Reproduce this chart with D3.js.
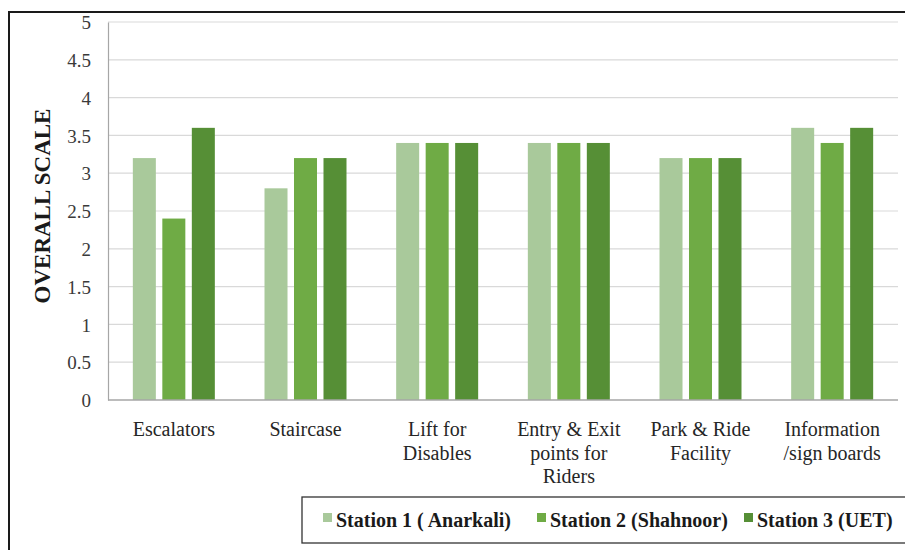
<!DOCTYPE html>
<html>
<head>
<meta charset="utf-8">
<script src="https://cdn.jsdelivr.net/npm/d3@7/dist/d3.min.js"></script>
<style>
  html, body { margin: 0; padding: 0; background: #fff; }
  svg { display: block; }
</style>
</head>
<body>
<svg id="chart" width="905" height="550"></svg>
<script>
// Facility ratings per metro station
const categories = [
  ["Escalators"],
  ["Staircase"],
  ["Lift for", "Disables"],
  ["Entry & Exit", "points for", "Riders"],
  ["Park & Ride", "Facility"],
  ["Information", "/sign boards"]
];
const seriesNames = ["Station 1 ( Anarkali)", "Station 2 (Shahnoor)", "Station 3 (UET)"];
const station1 = [3.2, 2.8, 3.4, 3.4, 3.2, 3.6];
const station2 = [2.4, 3.2, 3.4, 3.4, 3.2, 3.4];
const station3 = [3.6, 3.2, 3.4, 3.4, 3.2, 3.6];
const yTicks = [0, 0.5, 1, 1.5, 2, 2.5, 3, 3.5, 4, 4.5, 5];
const colors = ["#a9c99b", "#6fab45", "#568f36"];

const FONT = "'Liberation Serif', 'Times New Roman', serif";
const series = [station1, station2, station3];
const catKeys = categories.map(c => c.join(" "));

const svg = d3.select("#chart").attr("font-family", FONT);
const plot = { left: 108, right: 898, top: 22, bottom: 400 };

// outer frame (left and top edges)
svg.append("path")
  .attr("d", "M9,550 L9,12 L905,12")
  .attr("fill", "none").attr("stroke", "#1a1a1a").attr("stroke-width", 2);

const x0 = d3.scaleBand().domain(catKeys).range([plot.left, plot.right]).padding(0);
const x1 = d3.scaleBand().domain(d3.range(series.length))
  .range([x0.bandwidth() / 2 - 41, x0.bandwidth() / 2 + 41]).paddingInner(0.22);
const y = d3.scaleLinear().domain([0, 5]).range([plot.bottom, plot.top]);

// horizontal gridlines
svg.append("g")
  .selectAll("line").data(yTicks.filter(t => t > 0)).join("line")
  .attr("x1", plot.left).attr("x2", plot.right)
  .attr("y1", d => y(d)).attr("y2", d => y(d))
  .attr("stroke", "#d9d9d9").attr("stroke-width", 1.2);

// y axis
const yAxis = svg.append("g")
  .attr("transform", `translate(${plot.left},0)`)
  .call(d3.axisLeft(y).tickValues(yTicks).tickSize(0).tickPadding(17).tickFormat(d3.format("")));
yAxis.attr("font-family", FONT).attr("font-size", 19);
yAxis.select(".domain").attr("stroke", "#a6a6a6").attr("stroke-width", 1.2);
yAxis.selectAll("text").attr("fill", "#3a3a3a").attr("dy", "0.35em");

// bars
const groups = svg.append("g").selectAll("g").data(catKeys).join("g")
  .attr("transform", d => `translate(${x0(d)},0)`);
groups.selectAll("rect")
  .data((d, i) => series.map((s, j) => ({ j, v: s[i] })))
  .join("rect")
  .attr("x", d => x1(d.j))
  .attr("width", x1.bandwidth())
  .attr("y", d => y(d.v))
  .attr("height", d => y(0) - y(d.v))
  .attr("fill", d => colors[d.j]);

// x axis baseline
svg.append("line")
  .attr("x1", plot.left).attr("x2", plot.right)
  .attr("y1", y(0)).attr("y2", y(0))
  .attr("stroke", "#a6a6a6").attr("stroke-width", 1.5);

// category labels (multi-line)
const catLabels = svg.append("g").selectAll("text").data(categories).join("text")
  .attr("text-anchor", "middle")
  .attr("font-size", 20)
  .attr("fill", "#262626")
  .attr("x", (d, i) => x0(catKeys[i]) + x0.bandwidth() / 2)
  .attr("y", 436);
catLabels.selectAll("tspan").data(d => d).join("tspan")
  .attr("x", function () { return this.parentNode.getAttribute("x"); })
  .attr("dy", (d, i) => i === 0 ? 0 : 23.5)
  .text(d => d);

// y axis title
svg.append("text")
  .attr("transform", "translate(50,206) rotate(-90)")
  .attr("text-anchor", "middle")
  .attr("font-size", 23).attr("font-weight", "bold")
  .attr("fill", "#1a1a1a")
  .text("OVERALL SCALE");

// legend
const legend = svg.append("g");
legend.append("rect")
  .attr("x", 302).attr("y", 497).attr("width", 620).attr("height", 46)
  .attr("fill", "#fff").attr("stroke", "#333").attr("stroke-width", 1.3);
const legendX = [323, 537, 744];
const items = legend.selectAll("g.item").data(seriesNames).join("g")
  .attr("class", "item")
  .attr("transform", (d, i) => `translate(${legendX[i]},0)`);
items.append("rect")
  .attr("x", 0).attr("y", 513).attr("width", 9).attr("height", 9)
  .attr("fill", (d, i) => colors[i]);
items.append("text")
  .attr("x", 13).attr("y", 527)
  .attr("font-size", 20).attr("font-weight", "bold").attr("fill", "#1a1a1a")
  .text(d => d);
</script>
</body>
</html>
